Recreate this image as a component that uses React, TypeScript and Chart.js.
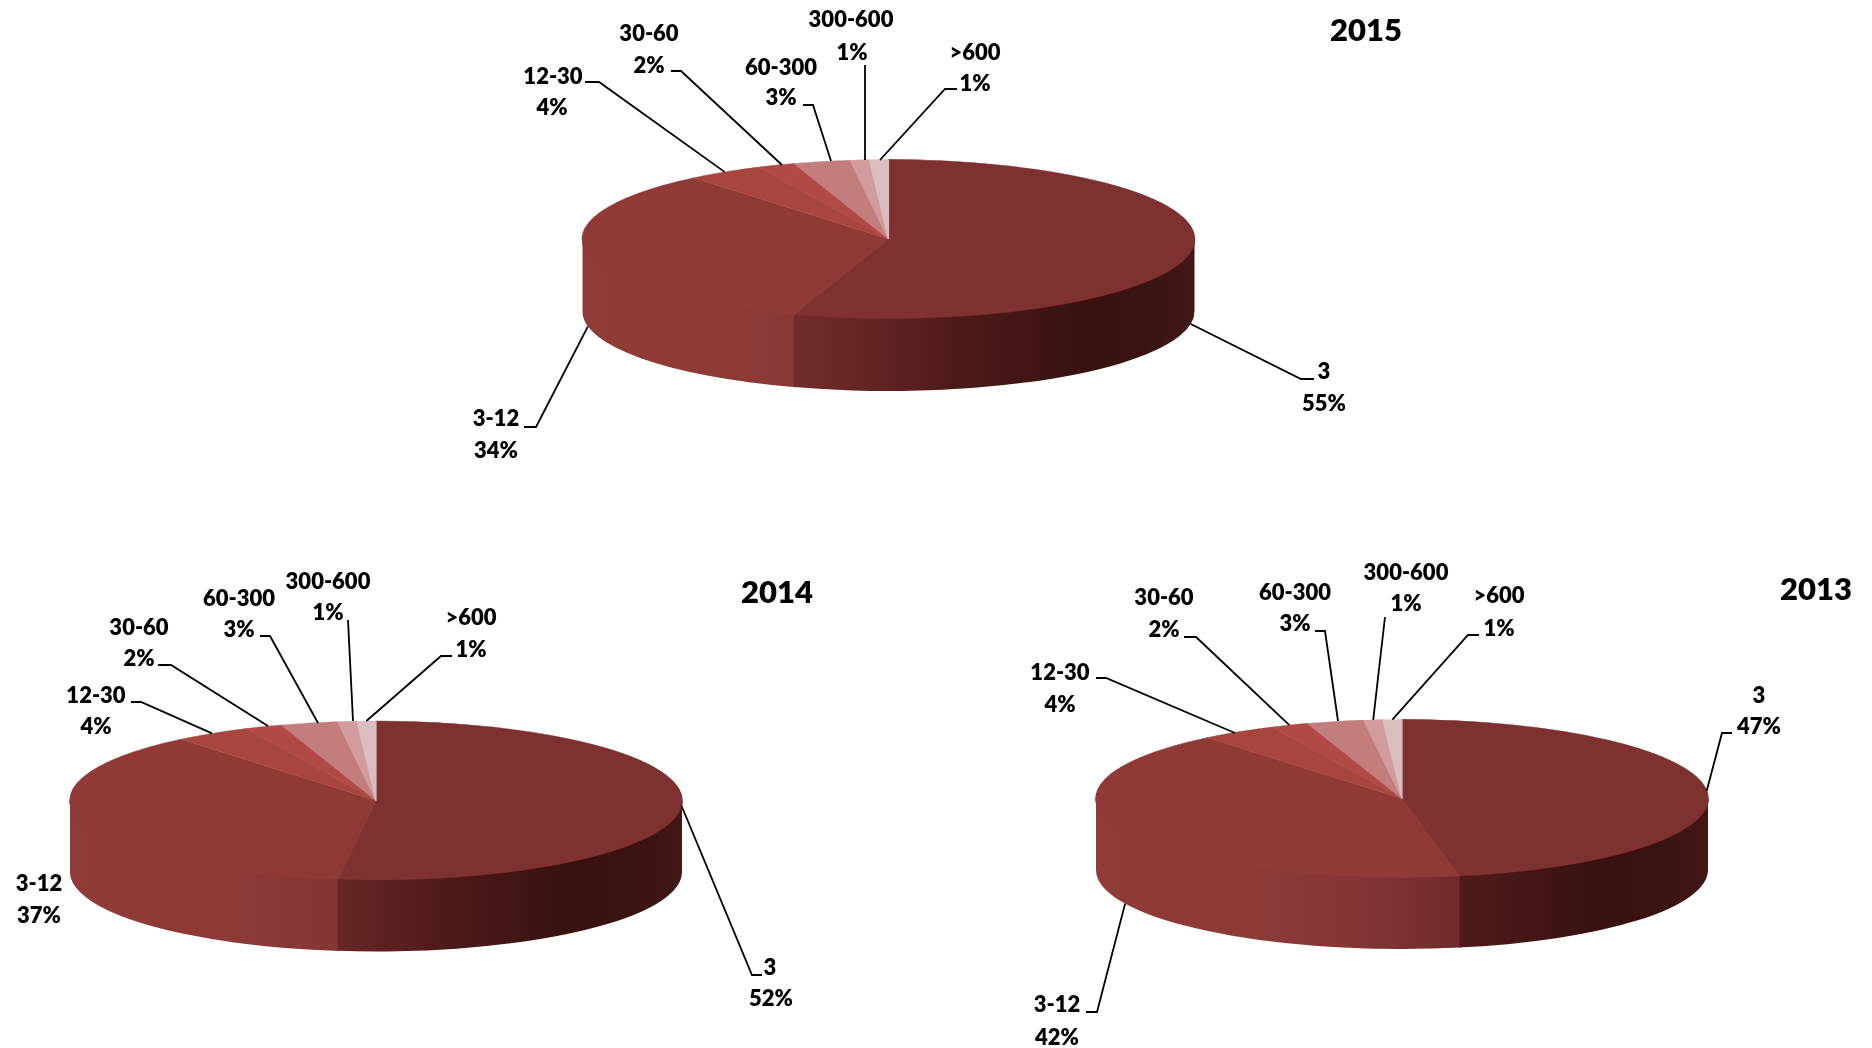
import React, { useEffect, useRef } from "react";
import { Chart, registerables } from "chart.js";

Chart.register(...registerables);

// ---- data ----
const categories = ["3", "3-12", "12-30", "30-60", "60-300", "300-600", ">600"];
const values2015 = [55, 34, 4, 2, 3, 1, 1];
const values2014 = [52, 37, 4, 2, 3, 1, 1];
const values2013 = [47, 42, 4, 2, 3, 1, 1];

// ---- styles ----
const sliceColors = ["#7E312E", "#8F3A37", "#A7453F", "#B14A45", "#C47D7D", "#D29C9D", "#D9BDBF"];
const wallStops: [number, string][][] = [
  [[0.35, "#722B2B"], [0.45, "#662525"], [0.6, "#4F1B1A"], [0.8, "#391210"], [0.92, "#3A1311"], [1, "#421715"]],
  [[0, "#8F3B38"], [0.25, "#8D3A37"], [0.42, "#853534"], [0.5, "#7C3030"], [0.6, "#702A2B"]],
];
const FONT = "Lato, Carlito, sans-serif";
const LABEL_FONT = `800 22px ${FONT}`;
const TITLE_FONT = `800 31px ${FONT}`;
const TEXT_DY = 1;

type Pt = [number, number];
interface Callout { label: Pt; value: Pt; path: Pt[]; from?: Pt }

// layout of the annotations, in page pixels; path runs from the elbow to the label side
const layout2015: Callout[] = [
  { label: [1324, 371], value: [1324, 403], path: [[1301, 379], [1314, 379]] },
  { label: [496, 418], value: [496, 450], path: [[536, 427], [524, 427]] },
  { label: [553, 76], value: [552, 107], path: [[599, 82], [585, 82]] },
  { label: [649, 33], value: [649, 65], path: [[681, 71], [671, 71]], from: [782, 165] },
  { label: [781, 67], value: [781, 97], path: [[813, 105], [803, 105]], from: [831, 161] },
  { label: [851, 19], value: [852, 52], path: [[865, 65]], from: [865, 160] },
  { label: [975, 52], value: [975, 83], path: [[945, 89], [957, 89]], from: [880, 160] },
];
const layout2014: Callout[] = [
  { label: [770, 967], value: [771, 998], path: [[752, 975], [762, 975]] },
  { label: [39, 883], value: [39, 915], path: [] },
  { label: [96, 695], value: [96, 726], path: [[141, 702], [131, 702]] },
  { label: [139, 627], value: [139, 658], path: [[171, 665], [158, 665]], from: [268, 726] },
  { label: [239, 598], value: [239, 629], path: [[270, 636], [260, 636]], from: [318, 723] },
  { label: [328, 581], value: [328, 612], path: [[348, 620]], from: [353, 721] },
  { label: [471, 617], value: [471, 649], path: [[441, 656], [452, 656]] },
];
const layout2013: Callout[] = [
  { label: [1759, 695], value: [1759, 726], path: [[1722, 733], [1732, 733]] },
  { label: [1057, 1004], value: [1057, 1037], path: [[1097, 1012], [1086, 1012]] },
  { label: [1060, 672], value: [1060, 704], path: [[1106, 678], [1096, 678]], from: [1235, 733] },
  { label: [1164, 597], value: [1164, 629], path: [[1196, 637], [1184, 637]] },
  { label: [1295, 592], value: [1295, 623], path: [[1325, 631], [1315, 631]], from: [1338, 721] },
  { label: [1406, 572], value: [1406, 603], path: [[1385, 617]] },
  { label: [1499, 595], value: [1499, 628], path: [[1468, 635], [1479, 635]] },
];

interface PieSpec {
  title: string;
  values: number[];
  layout: Callout[];
  box: { left: number; top: number; width: number; height: number };
  cx: number; cy: number; rx: number; ry: number; thick: number;
  titlePos: Pt;
}

const pies: PieSpec[] = [
  {
    title: "2015", values: values2015, layout: layout2015,
    box: { left: 440, top: 0, width: 1000, height: 520 },
    cx: 888.5, cy: 239, rx: 306, ry: 79.5, thick: 72.5, titlePos: [1366, 30],
  },
  {
    title: "2014", values: values2014, layout: layout2014,
    box: { left: 0, top: 540, width: 900, height: 508 },
    cx: 376, cy: 800.5, rx: 306, ry: 79.5, thick: 71.5, titlePos: [777, 592],
  },
  {
    title: "2013", values: values2013, layout: layout2013,
    box: { left: 1000, top: 540, width: 872, height: 508 },
    cx: 1402, cy: 798.5, rx: 306, ry: 79, thick: 71.5, titlePos: [1816, 589],
  },
];

// Squashes the library's pie into a tilted disc, adds the wall and the callouts.
const pie3d = {
  id: "pie3d",
  beforeDatasetsDraw(chart: any, _a: any, o: any) {
    const s: PieSpec = o.spec;
    const { ctx } = chart;
    const arcs = chart.getDatasetMeta(0).data;
    const x0 = s.cx - s.box.left, y0 = s.cy - s.box.top;
    // later slices first, each reaching slightly under the next, so no seam shows
    for (let i = arcs.length - 1; i >= 0; i--) {
      const el = arcs[i];
      const a0 = Math.max(el.startAngle - 0.006, 0);
      const a1 = Math.min(el.endAngle, Math.PI);
      if (a1 <= a0) continue;
      const g = ctx.createLinearGradient(x0 - s.rx, 0, x0 + s.rx, 0);
      (wallStops[i] || [[0, sliceColors[i]], [1, sliceColors[i]]]).forEach(([p, c]: any) => g.addColorStop(p, c));
      ctx.beginPath();
      ctx.ellipse(x0, y0, s.rx, s.ry, 0, a0, a1, false);
      ctx.ellipse(x0, y0 + s.thick, s.rx, s.ry, 0, a1, a0, true);
      ctx.closePath();
      ctx.fillStyle = g;
      ctx.fill();
      // closes the hairline between the wall and the disc's edge
      ctx.beginPath();
      ctx.ellipse(x0, y0, s.rx, s.ry, 0, a0, a1, false);
      ctx.strokeStyle = g;
      ctx.lineWidth = 1.5;
      ctx.stroke();
    }
    const first = arcs[0];
    const R = first.outerRadius;
    ctx.save();
    ctx.translate(x0, y0);
    ctx.scale(s.rx / R, s.ry / R);
    ctx.translate(-first.x, -first.y);
  },
  afterDatasetsDraw(chart: any, _a: any, o: any) {
    const s: PieSpec = o.spec;
    const { ctx } = chart;
    ctx.restore();
    ctx.save();
    ctx.translate(-s.box.left, -s.box.top);
    const arcs = chart.getDatasetMeta(0).data;
    ctx.strokeStyle = "#000";
    ctx.lineWidth = 1.8;
    ctx.fillStyle = "#000";
    ctx.font = LABEL_FONT;
    ctx.textAlign = "center";
    ctx.textBaseline = "middle";
    arcs.forEach((el: any, i: number) => {
      const c = s.layout[i];
      if (c.path.length) {
        const mid = (el.startAngle + el.endAngle) / 2;
        const sin = Math.sin(mid);
        const start: Pt = c.from || [s.cx + s.rx * Math.cos(mid), s.cy + s.ry * sin + (sin > 0.1 ? s.thick : 0)];
        ctx.beginPath();
        ctx.moveTo(start[0], start[1]);
        c.path.forEach(([x, y]) => ctx.lineTo(x, y));
        ctx.stroke();
      }
      ctx.fillText(categories[i], c.label[0], c.label[1] + TEXT_DY);
      ctx.fillText(`${s.values[i]}%`, c.value[0], c.value[1] + TEXT_DY);
    });
    ctx.font = TITLE_FONT;
    ctx.fillText(s.title, s.titlePos[0], s.titlePos[1] + TEXT_DY);
    ctx.restore();
  },
};

function Pie({ spec }: { spec: PieSpec }) {
  const ref = useRef<HTMLCanvasElement | null>(null);
  useEffect(() => {
    const chart = new Chart(ref.current as HTMLCanvasElement, {
      type: "pie",
      data: {
        labels: categories,
        datasets: [{
          data: spec.values,
          backgroundColor: sliceColors,
          borderColor: sliceColors,
          borderWidth: 1,
        }],
      },
      options: {
        responsive: false,
        animation: false,
        events: [],
        plugins: {
          legend: { display: false },
          tooltip: { enabled: false },
          pie3d: { spec },
        } as any,
      },
      plugins: [pie3d],
    });
    return () => chart.destroy();
  }, [spec]);
  const b = spec.box;
  return (
    <canvas
      ref={ref}
      width={b.width}
      height={b.height}
      style={{ position: "absolute", left: b.left, top: b.top, width: b.width, height: b.height, display: "block" }}
    />
  );
}

export default function App() {
  useEffect(() => {
    document.body.style.margin = "0";
    document.body.style.background = "#fff";
  }, []);
  return (
    <div style={{ position: "relative", width: 1872, height: 1048, overflow: "hidden", background: "#fff" }}>
      {pies.map((p) => <Pie key={p.title} spec={p} />)}
    </div>
  );
}
